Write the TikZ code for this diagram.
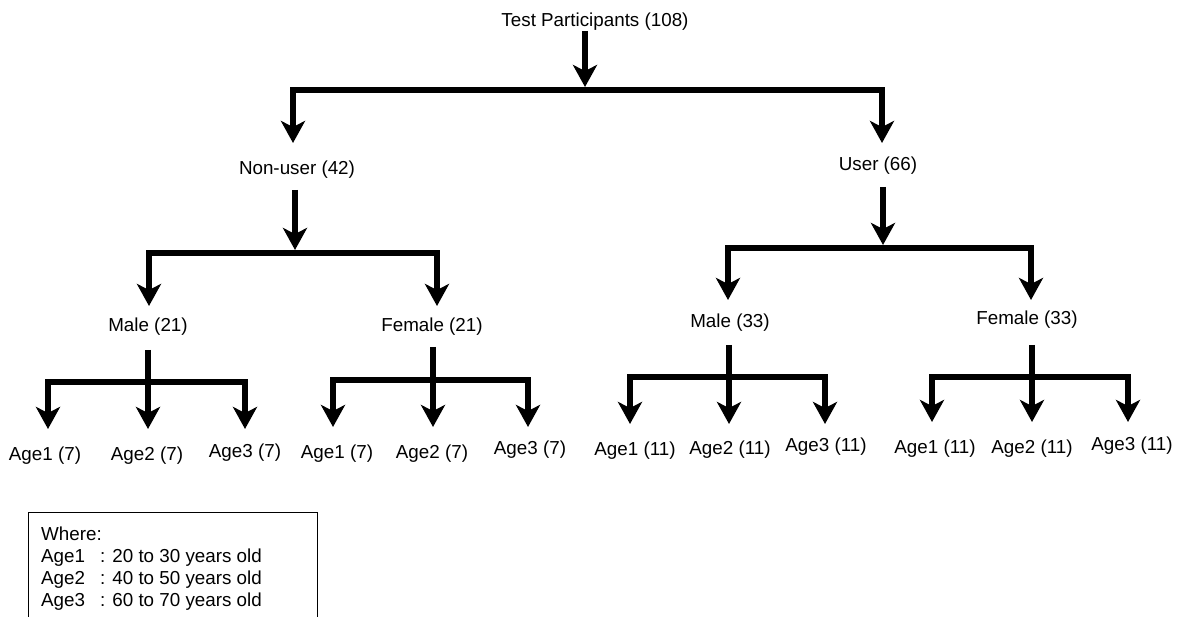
\documentclass[tikz,border=0pt]{standalone}
\usepackage{fontspec}
\setmainfont{Liberation Sans}
\usetikzlibrary{arrows.meta}
\begin{document}
\begin{tikzpicture}[x=1pt,y=-1pt,
  lbl/.style={font=\fontsize{18.8}{22}\selectfont, inner sep=0pt},
  legtxt/.style={font=\fontsize{18.8}{22}\selectfont, inner sep=0pt, anchor=base west},
  arr/.style={line width=5.8pt, -{Stealth[length=22pt,width=24pt,inset=6pt]}},
  arrboth/.style={line width=5.8pt, {Stealth[length=22pt,width=24pt,inset=6pt]}-{Stealth[length=22pt,width=24pt,inset=6pt]}},
  legbox/.style={line width=1pt}]
\useasboundingbox (0,0) rectangle (1178,617);

% labels
\node[lbl] (T) at (595,22) {Test Participants (108)};
\node[lbl] (NU) at (297,170) {Non-user (42)};
\node[lbl] (U) at (878,166) {User (66)};
\node[lbl] (M1) at (148,327) {Male (21)};
\node[lbl] (F1) at (432,327) {Female (21)};
\node[lbl] (M2) at (730,323) {Male (33)};
\node[lbl] (F2) at (1027,320) {Female (33)};

\node[lbl] (a11) at (45,456) {Age1 (7)};
\node[lbl] (a12) at (147,456) {Age2 (7)};
\node[lbl] (a13) at (245,453) {Age3 (7)};
\node[lbl] (a21) at (337,454) {Age1 (7)};
\node[lbl] (a22) at (432,454) {Age2 (7)};
\node[lbl] (a23) at (530,450) {Age3 (7)};
\node[lbl] (a31) at (635,451) {Age1 (11)};
\node[lbl] (a32) at (730,450) {Age2 (11)};
\node[lbl] (a33) at (826,447) {Age3 (11)};
\node[lbl] (a41) at (935,449) {Age1 (11)};
\node[lbl] (a42) at (1032,449) {Age2 (11)};
\node[lbl] (a43) at (1132,446) {Age3 (11)};

% level 0 -> 1
\coordinate (s0) at (585,31);
\coordinate (e0) at (585,87);
\coordinate (j0) at (585,90);
\coordinate (t0l) at (293,143);
\coordinate (t0r) at (882,143);
\draw[arr] (s0) -- (e0);
\draw[arrboth] (t0l) |- (j0) -| (t0r);

% Non-user -> Male/Female
\coordinate (s1) at (295,190);
\coordinate (e1) at (295,250);
\coordinate (j1) at (295,253);
\coordinate (t1l) at (149,306);
\coordinate (t1r) at (437,306);
\draw[arr] (s1) -- (e1);
\draw[arrboth] (t1l) |- (j1) -| (t1r);

% User -> Male/Female
\coordinate (s2) at (883,187);
\coordinate (e2) at (883,245);
\coordinate (j2) at (883,248);
\coordinate (t2l) at (728,300);
\coordinate (t2r) at (1031,300);
\draw[arr] (s2) -- (e2);
\draw[arrboth] (t2l) |- (j2) -| (t2r);

% Male (21) -> ages
\coordinate (s3) at (148,350);
\coordinate (j3) at (148,382);
\coordinate (t3l) at (48,429);
\coordinate (t3m) at (148,429);
\coordinate (t3r) at (245,429);
\draw[arrboth] (t3l) |- (j3) -| (t3r);
\draw[arr] (s3) -- (t3m);

% Female (21) -> ages
\coordinate (s4) at (433,347);
\coordinate (j4) at (433,380);
\coordinate (t4l) at (333,427);
\coordinate (t4m) at (433,427);
\coordinate (t4r) at (528,427);
\draw[arrboth] (t4l) |- (j4) -| (t4r);
\draw[arr] (s4) -- (t4m);

% Male (33) -> ages
\coordinate (s5) at (729,345);
\coordinate (j5) at (729,377);
\coordinate (t5l) at (630,424);
\coordinate (t5m) at (729,424);
\coordinate (t5r) at (825,424);
\draw[arrboth] (t5l) |- (j5) -| (t5r);
\draw[arr] (s5) -- (t5m);

% Female (33) -> ages
\coordinate (s6) at (1032,345);
\coordinate (j6) at (1032,377);
\coordinate (t6l) at (932,422);
\coordinate (t6m) at (1032,422);
\coordinate (t6r) at (1128,422);
\draw[arrboth] (t6l) |- (j6) -| (t6r);
\draw[arr] (s6) -- (t6m);

% legend
\coordinate (bl) at (28,617);
\coordinate (tl) at (28,512);
\coordinate (tr) at (317,512);
\coordinate (br) at (317,617);
\draw[legbox] (bl) -- (tl) -- (tr) -- (br);
\node[legtxt] (w) at (41,540) {Where:};
\node[legtxt] (k1) at (41,562) {Age1};
\node[legtxt] (k2) at (41,584) {Age2};
\node[legtxt] (k3) at (41,606) {Age3};
\node[legtxt] (d1) at (100,562) {: 20 to 30 years old};
\node[legtxt] (d2) at (100,584) {: 40 to 50 years old};
\node[legtxt] (d3) at (100,606) {: 60 to 70 years old};
\end{tikzpicture}
\end{document}
